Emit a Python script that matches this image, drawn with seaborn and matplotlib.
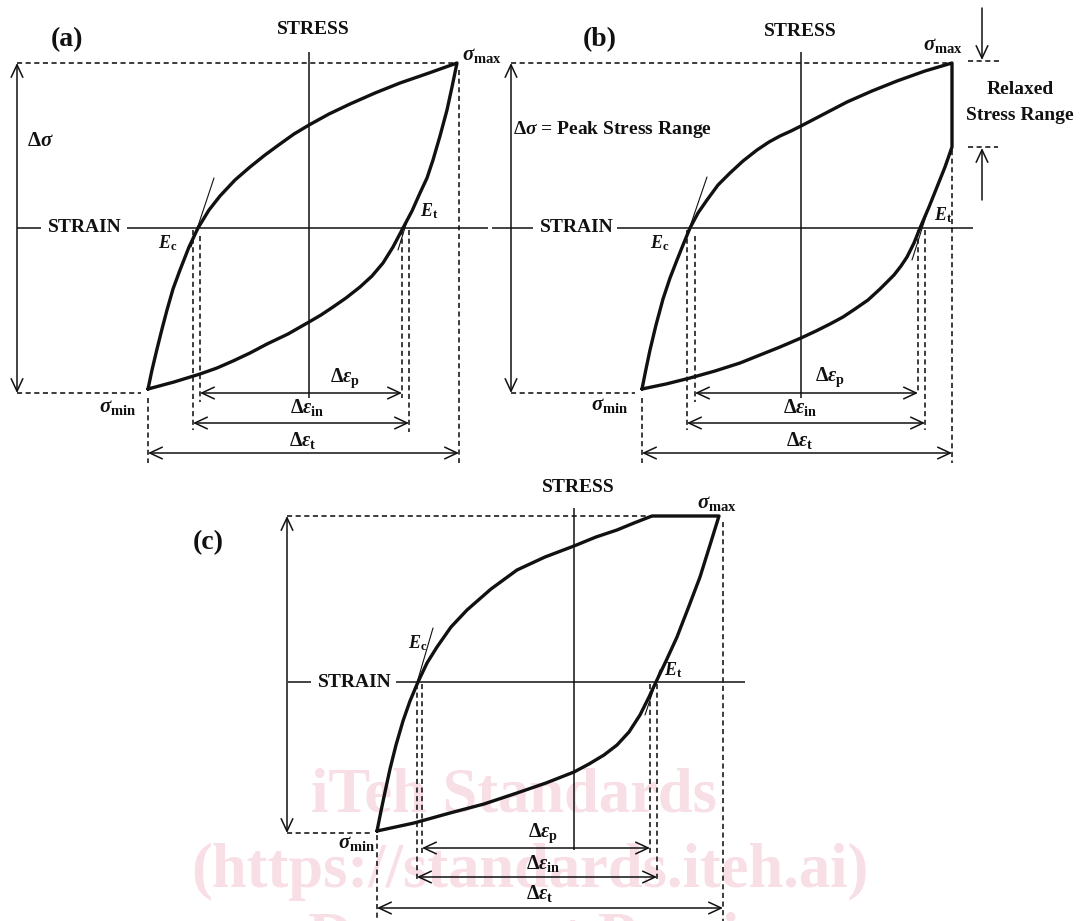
import matplotlib
matplotlib.use("Agg")
import matplotlib.pyplot as plt
import seaborn as sns

sns.set_theme(style="white")
plt.rcParams["font.family"] = ["Liberation Serif", "DejaVu Serif"]
plt.rcParams["font.weight"] = "bold"
plt.rcParams["mathtext.fontset"] = "custom"
plt.rcParams["mathtext.rm"] = "Liberation Serif:bold"
plt.rcParams["mathtext.it"] = "Liberation Serif:italic:bold"
plt.rcParams["mathtext.bf"] = "Liberation Serif:bold"

W, H = 1080, 921

# ---- loop data: (strain, stress) with the origin at the axes crossing ----
# (a) fully reversed loop
a_load_strain = [-161, -157, -152, -147, -142, -136, -129, -120, -111, -100, -89, -74,
                 -59, -44, -29, -15, 0, 20, 41, 66, 91, 120, 148]
a_load_stress = [-161, -142, -121, -101, -82, -61, -42, -19, 0, 18, 32, 48,
                 61, 73, 84, 94, 103, 114, 124, 135, 145, 155, 165]
a_unload_strain = [148, 143, 138, 131, 124, 118, 111, 103, 94, 84, 74, 63, 51,
                   37, 24, 12, 0, -21, -42, -59, -76, -92, -109, -135, -161]
a_unload_stress = [165, 141, 118, 92, 68, 50, 35, 17, 0, -19, -35, -48, -59,
                   -70, -79, -87, -94, -106, -116, -125, -133, -140, -146, -154, -161]

# (b) loop with stress relaxation at peak strain
b_load_strain = [-159, -155, -151, -145, -138, -131, -124, -118, -111, -103, -94, -83,
                 -71, -58, -44, -32, -21, -10, 0, 23, 46, 71, 96, 124, 151]
b_load_stress = [-161, -141, -122, -97, -71, -50, -32, -17, 0, 15, 28, 43,
                 55, 67, 78, 86, 92, 97, 102, 114, 126, 137, 147, 157, 165]
b_relax_strain = [151, 151]
b_relax_stress = [165, 81]
b_unload_strain = [151, 144, 136, 128, 119, 113, 106, 100, 93, 79, 67, 54,
                   42, 29, 15, 0, -21, -41, -61, -86, -111, -135, -159]
b_unload_stress = [81, 61, 41, 21, 0, -15, -29, -38, -47, -61, -72, -81,
                   -89, -96, -103, -110, -119, -127, -135, -143, -150, -156, -161]

# (c) loop with a hold (creep) at peak stress
c_load_strain = [-197, -193, -189, -184, -178, -171, -164, -156, -147, -137, -123,
                 -107, -83, -57, -29, 0, 22, 43, 60, 78]
c_load_stress = [-149, -129, -110, -87, -63, -39, -19, 0, 19, 35, 55,
                 72, 93, 112, 125, 136, 145, 152, 159, 166]
c_creep_strain = [78, 145]
c_creep_stress = [166, 166]
c_unload_strain = [145, 136, 126, 115, 103, 92, 82, 75, 66, 55, 43, 30, 15, 0,
                   -28, -57, -90, -124, -160, -197]
c_unload_stress = [166, 137, 105, 76, 45, 21, 0, -15, -33, -50, -63, -73, -82, -90,
                   -101, -111, -122, -131, -141, -149]

# strain ranges (start, end): plastic, inelastic and total strain
a_ranges = {"p": (-109, 93), "in": (-116, 100), "t": (-161, 150)}
b_ranges = {"p": (-106, 117), "in": (-114, 124), "t": (-159, 151)}
c_ranges = {"p": (-152, 76), "in": (-157, 83), "t": (-197, 149)}

# modulus tangent lines: ((x0, y0), (x1, y1))
a_tangents = {"c": ((-95, 50), (-118, -19)), "t": ((89, -22), (99, 10))}
b_tangents = {"c": ((-94, 51), (-118, -19)), "t": ((111, -32), (126, 15))}
c_tangents = {"c": ((-141, 54), (-160, -11)), "t": ((71, -33), (86, 12))}

INK = "#111111"
fig = plt.figure(figsize=(W / 100, H / 100), dpi=100)
fig.patch.set_facecolor("white")


def panel_axes(ox, oy):
    ax = fig.add_axes([0, 0, 1, 1])
    ax.set_xlim(-ox, W - ox)
    ax.set_ylim(oy - H, oy)
    ax.axis("off")
    ax.patch.set_alpha(0)
    return ax


def solid(ax, xs, ys, lw=1.1):
    ax.plot(xs, ys, color=INK, lw=lw, zorder=2, solid_capstyle="butt")


def dashed(ax, xs, ys):
    ax.plot(xs, ys, color=INK, lw=1.15, ls=(0, (3.2, 2.2)), zorder=2)


def arrow(ax, p0, p1, style="<->"):
    ax.annotate("", xy=p1, xytext=p0,
                arrowprops=dict(arrowstyle=f"{style},head_length=0.6,head_width=0.28",
                                lw=1.1, color=INK, shrinkA=0, shrinkB=0,
                                mutation_scale=15))


def loop(ax, xs, ys):
    sns.lineplot(x=xs, y=ys, ax=ax, sort=False, estimator=None, color=INK,
                 lw=2.4, solid_joinstyle="round", legend=False, zorder=4)


def txt(ax, x, y, s, size=14, **kw):
    kw.setdefault("ha", "center")
    kw.setdefault("va", "center")
    ax.text(x, y, s, fontsize=size, fontweight="bold", color=INK, zorder=5, **kw)


def ranges(ax, r, ys, label_pos):
    for n, y, (lx, ly) in zip(["p", "in", "t"], ys, label_pos):
        arrow(ax, (r[n][0], y), (r[n][1], y))
        txt(ax, lx, ly, r"$\Delta\varepsilon_{\mathrm{%s}}$" % n, size=14.5)


def tangents(ax, t):
    for (p0, p1) in t.values():
        ax.plot([p0[0], p1[0]], [p0[1], p1[1]], color=INK, lw=0.8, zorder=3)


# ---------------- (a) ----------------
ax = panel_axes(309, 228)
solid(ax, [0, 0], [176, -170])
solid(ax, [-292, -268], [0, 0])
solid(ax, [-182, 179], [0, 0])
txt(ax, -224, 0, "STRAIN")
txt(ax, 4, 198, "STRESS")
txt(ax, -242, 188, "(a)", size=20)
dashed(ax, [-292, 144], [165, 165])
dashed(ax, [-292, -168], [-165, -165])
arrow(ax, (-292, 165), (-292, -165))
txt(ax, -282, 87, r"$\Delta\sigma$", size=15, ha="left")
dashed(ax, [-161, -161], [-170, -235])
dashed(ax, [150, 150], [158, -235])
dashed(ax, [-116, -116], [-2, -202])
dashed(ax, [-109, -109], [-8, -174])
dashed(ax, [93, 93], [-2, -170])
dashed(ax, [100, 100], [-2, -204])
loop(ax, a_load_strain + a_unload_strain[1:], a_load_stress + a_unload_stress[1:])
tangents(ax, a_tangents)
ranges(ax, a_ranges, [-165, -195, -225], [(36, -150), (-2, -179), (-6, -212)])
txt(ax, -191, -179, r"$\sigma_{\mathrm{min}}$", size=15)
txt(ax, 173, 173, r"$\sigma_{\mathrm{max}}$", size=15)
txt(ax, -141, -15, r"$E_{\mathrm{c}}$", size=13)
txt(ax, 120, 17, r"$E_{\mathrm{t}}$", size=13)

# ---------------- (b) ----------------
ax = panel_axes(801, 228)
solid(ax, [0, 0], [176, -170])
solid(ax, [-309, -268], [0, 0])
solid(ax, [-184, 172], [0, 0])
txt(ax, -224, 0, "STRAIN")
txt(ax, -1, 196, "STRESS")
txt(ax, -201, 188, "(b)", size=20)
dashed(ax, [-290, 146], [165, 165])
dashed(ax, [-290, -166], [-165, -165])
arrow(ax, (-290, 165), (-290, -165))
txt(ax, -288, 98, r"$\Delta\sigma$ = Peak Stress Range", ha="left")
dashed(ax, [-159, -159], [-170, -235])
dashed(ax, [151, 151], [78, -235])
dashed(ax, [-114, -114], [-2, -202])
dashed(ax, [-106, -106], [-8, -174])
dashed(ax, [117, 117], [-2, -165])
dashed(ax, [124, 124], [-2, -202])
loop(ax, b_load_strain + b_relax_strain[1:] + b_unload_strain[1:],
     b_load_stress + b_relax_stress[1:] + b_unload_stress[1:])
tangents(ax, b_tangents)
ranges(ax, b_ranges, [-165, -195, -225], [(29, -149), (-1, -179), (-1, -212)])
txt(ax, -191, -177, r"$\sigma_{\mathrm{min}}$", size=15)
txt(ax, 142, 183, r"$\sigma_{\mathrm{max}}$", size=15)
txt(ax, -141, -15, r"$E_{\mathrm{c}}$", size=13)
txt(ax, 142, 13, r"$E_{\mathrm{t}}$", size=13)
# relaxed stress range marker
dashed(ax, [167, 199], [167, 167])
dashed(ax, [167, 197], [81, 81])
arrow(ax, (181, 220), (181, 168), style="->")
arrow(ax, (181, 28), (181, 80), style="->")
txt(ax, 219, 138, "Relaxed")
txt(ax, 219, 113, "Stress Range")

# ---------------- (c) ----------------
ax = panel_axes(574, 682)
solid(ax, [0, 0], [174, -168])
solid(ax, [-286, -263], [0, 0])
solid(ax, [-178, 171], [0, 0])
txt(ax, -219, 0, "STRAIN")
txt(ax, 4, 195, "STRESS")
txt(ax, -366, 139, "(c)", size=20)
dashed(ax, [-287, 78], [166, 166])
dashed(ax, [-287, -203], [-151, -151])
arrow(ax, (-287, 166), (-287, -151))
dashed(ax, [-197, -197], [-153, -240])
dashed(ax, [149, 149], [160, -240])
dashed(ax, [-157, -157], [-2, -200])
dashed(ax, [-152, -152], [-2, -171])
dashed(ax, [76, 76], [-2, -171])
dashed(ax, [83, 83], [-2, -200])
loop(ax, c_load_strain + c_creep_strain[1:] + c_unload_strain[1:],
     c_load_stress + c_creep_stress[1:] + c_unload_stress[1:])
tangents(ax, c_tangents)
ranges(ax, c_ranges, [-166, -195, -226], [(-31, -151), (-31, -181), (-34, -211)])
txt(ax, -217, -161, r"$\sigma_{\mathrm{min}}$", size=15)
txt(ax, 143, 179, r"$\sigma_{\mathrm{max}}$", size=15)
txt(ax, -156, 39, r"$E_{\mathrm{c}}$", size=13)
txt(ax, 99, 12, r"$E_{\mathrm{t}}$", size=13)

# ---------------- watermark ----------------
WM = "#f8dee5"
for s, x, y in [("iTeh Standards", 514, 812),
                ("(https://standards.iteh.ai)", 530, 887),
                ("Document Preview", 560, 956)]:
    fig.text(x / W, 1 - y / H, s, fontsize=45, fontweight="bold", color=WM,
             ha="center", va="baseline", zorder=-1)

fig.savefig("out.png", dpi=100, facecolor="white")
